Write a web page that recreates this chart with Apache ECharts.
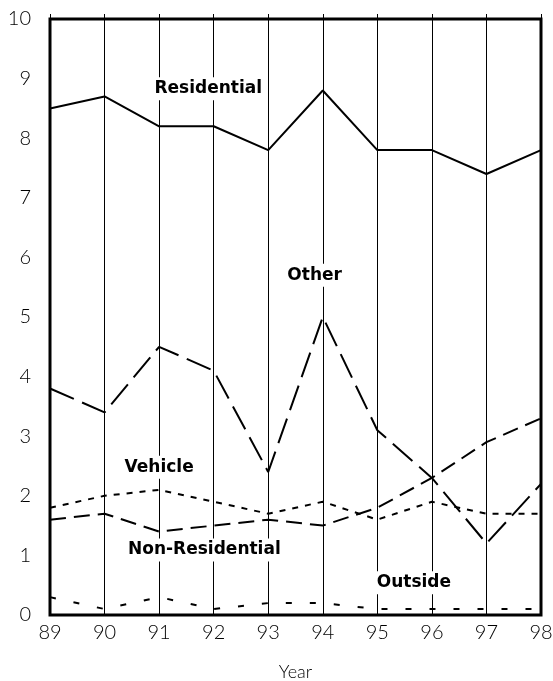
<!DOCTYPE html>
<html><head><meta charset="utf-8">
<script src="https://cdn.jsdelivr.net/npm/echarts@6/dist/echarts.min.js"></script>
<style>html,body{margin:0;padding:0;background:#fff}#c{width:553px;height:681px}</style>
</head><body><div id="c"></div>
<script>
const years = [89, 90, 91, 92, 93, 94, 95, 96, 97, 98];
const residential = [8.5, 8.7, 8.2, 8.2, 7.8, 8.8, 7.8, 7.8, 7.4, 7.8];
const other = [3.8, 3.4, 4.5, 4.1, 2.4, 5.0, 3.1, 2.3, 1.2, 2.2];
const nonResidential = [1.6, 1.7, 1.4, 1.5, 1.6, 1.5, 1.8, 2.3, 2.9, 3.3];
const vehicle = [1.8, 2.0, 2.1, 1.9, 1.7, 1.9, 1.6, 1.9, 1.7, 1.7];
const outside = [0.3, 0.1, 0.3, 0.1, 0.2, 0.2, 0.1, 0.1, 0.1, 0.1];
const labels = [
  {name: 'Residential', coord: [91.9, 8.83]},
  {name: 'Other', coord: [93.85, 5.7]},
  {name: 'Vehicle', coord: [91.0, 2.48]},
  {name: 'Non-Residential', coord: [91.83, 1.09]},
  {name: 'Outside', coord: [95.67, 0.54]}
];
const tickFont = 'Lato, sans-serif';
const boldFont = '"DejaVu Sans", sans-serif';
const pairs = arr => years.map((y, i) => [y, arr[i]]);
function ser(name, arr, dash, extra) {
  const s = {
    name, type: 'line', data: pairs(arr), symbol: 'none', silent: true,
    lineStyle: {color: '#000', width: 2, type: dash},
    z: 3
  };
  return Object.assign(s, extra || {});
}
const chart = echarts.init(document.getElementById('c'));
chart.setOption({
  animation: false,
  grid: {left: 50, right: 12, top: 19, bottom: 66, show: true, borderColor: '#000', borderWidth: 3,
    outerBoundsMode: 'none', containLabel: false},
  xAxis: [{
    type: 'value', min: 89, max: 98, interval: 1,
    name: 'Year', nameLocation: 'middle', nameGap: 48,
    nameTextStyle: {fontFamily: tickFont, fontWeight: 300, fontSize: 18, color: '#000'},
    axisLine: {show: false}, axisTick: {show: false},
    axisLabel: {fontFamily: tickFont, fontWeight: 300, fontSize: 20, color: '#000', margin: 8},
    splitLine: {show: true, lineStyle: {color: '#000', width: 1}}
  }, {
    type: 'value', min: 89, max: 98, interval: 1, position: 'top',
    axisLine: {show: false}, axisLabel: {show: false}, splitLine: {show: false},
    axisTick: {show: true, length: 5, lineStyle: {color: '#000', width: 1}}
  }],
  yAxis: {
    type: 'value', min: 0, max: 10, interval: 1,
    axisLine: {show: false}, axisTick: {show: false},
    axisLabel: {fontFamily: tickFont, fontWeight: 300, fontSize: 20, color: '#000', margin: 19},
    splitLine: {show: false}
  },
  series: [
    ser('Residential', residential, 'solid', {
      markPoint: {
        symbol: 'circle', symbolSize: 0, silent: true,
        label: {show: true, position: 'inside', formatter: p => p.name,
          fontFamily: boldFont, fontWeight: 'bold', fontSize: 17, color: '#000',
          backgroundColor: '#fff', padding: [3, 2]},
        data: labels.map(l => ({name: l.name, coord: l.coord}))
      }
    }),
    ser('Other', other, [26, 9]),
    ser('Non-Residential', nonResidential, [16, 8]),
    ser('Vehicle', vehicle, [6, 7]),
    ser('Outside', outside, [6, 18])
  ]
});
</script></body></html>
